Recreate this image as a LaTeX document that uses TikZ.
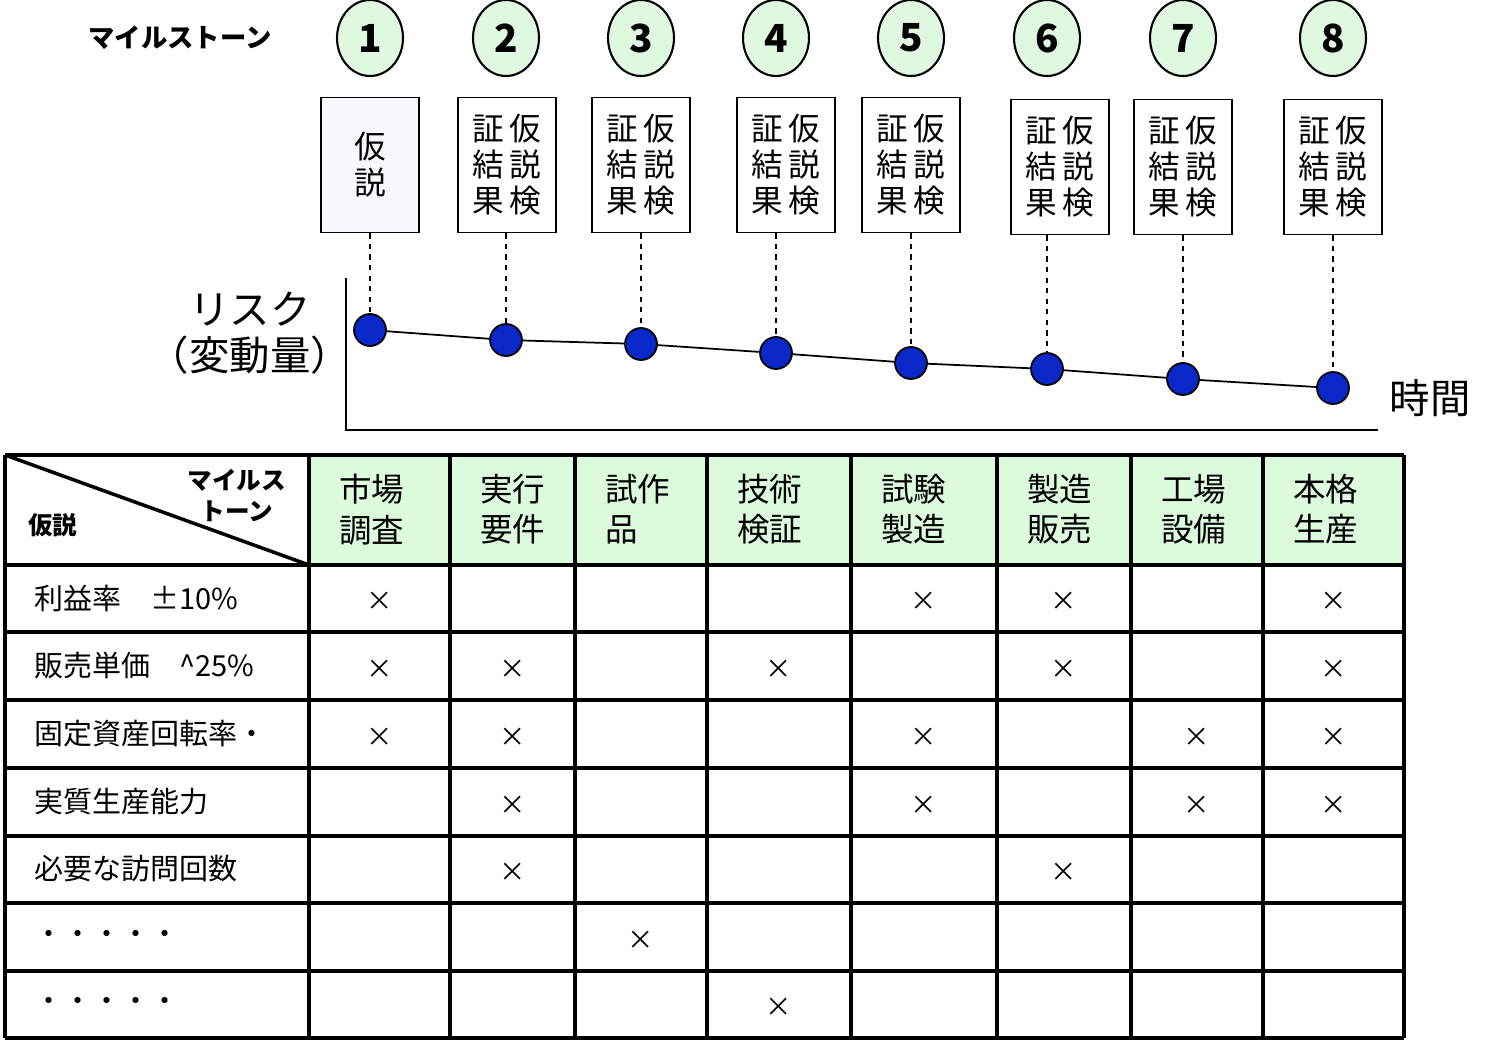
\documentclass[tikz,border=0pt]{standalone}
\usepackage{fontspec}
\setmainfont{Noto Sans CJK JP}
\usetikzlibrary{shapes.geometric}
\definecolor{mgreen}{HTML}{E0F8E0}
\definecolor{hgreen}{HTML}{DCFADC}
\definecolor{blav}{HTML}{F8F8FF}
\definecolor{dblue}{HTML}{0A28C8}
\begin{document}
\begin{tikzpicture}[x=0.02cm,y=-0.02cm,
    mstone/.style={ellipse,draw,line width=1.2pt,fill=mgreen,minimum width=1.32cm,minimum height=1.52cm,inner sep=0pt,font=\fontsize{22}{24}\selectfont\bfseries},
    hbox/.style={draw,line width=1pt,minimum width=1.96cm,minimum height=2.7cm,align=center,font=\fontsize{18}{20.5}\selectfont},
    rdot/.style={circle,draw,line width=1pt,fill=dblue,minimum size=0.64cm,inner sep=0pt},
    cross/.style={font=\fontsize{15}{15}\selectfont},
    rowlab/.style={anchor=west,font=\fontsize{16.5}{18}\selectfont},
    colhead/.style={anchor=north west,align=left,font=\fontsize{18.5}{23}\selectfont}]
  \useasboundingbox (0,0) rectangle (1500,1047);

  % milestones
  \node[font=\fontsize{15}{17}\selectfont\bfseries] (mtitle) at (180,38) {マイルストーン};
  \foreach \i/\x in {1/370,2/506,3/641,4/776,5/911,6/1047,7/1183,8/1333}
    \node[mstone] (m\i) at (\x,38) {\i};

  % hypothesis boxes
  \node[hbox,fill=blav] (b1) at (370,165) {仮\\説};
  \foreach \i/\x/\y in {2/507/165,3/641/165,4/786/165,5/911/165,6/1060/167,7/1183/167,8/1333/167}
    \node[hbox] (b\i) at (\x,\y) {証\,仮\\結\,説\\果\,検};

  % risk curve
  \foreach \i/\x/\y in {1/370/330,2/506/340,3/641/344,4/776/353,5/911/363,6/1047/369,7/1183/379,8/1333/388}
    \coordinate (p\i) at (\x,\y);
  \draw[line width=1pt] (p1) -- (p2) -- (p3) -- (p4) -- (p5) -- (p6) -- (p7) -- (p8);
  \foreach \i in {1,...,8} {
    \draw[dashed,line width=1pt] (b\i.south -| p\i) -- (p\i);
    \node[rdot] (d\i) at (p\i) {};
  }

  % axes
  \coordinate (ax0) at (346,430);
  \draw[line width=1pt] (346,278) -- (ax0) -- (1378,430);
  \node[font=\fontsize{23}{26}\selectfont,align=center] (ylab) at (250,333) {リスク\\（変動量）};
  \node[font=\fontsize{23}{26}\selectfont] (xlab) at (1430,398) {時間};

  % table
  \fill[hgreen] (309,455) rectangle (1404,565);
  \foreach \y in {455,565,632,700,768,836,903,971,1038}
    \draw[line width=2pt] (5,\y) -- (1404,\y);
  \foreach \x in {5,309,450,575,707,851,997,1131,1263,1404}
    \draw[line width=2pt] (\x,455) -- (\x,1038);
  \draw[line width=2pt] (5,455) -- (309,565);
  \node[anchor=north east,align=right,font=\fontsize{14}{17.5}\selectfont\bfseries] (tcorner) at (292,463) {マイルス\\トーン\hspace*{0.5em}};
  \node[anchor=west,font=\fontsize{14}{16}\selectfont\bfseries] (tleft) at (22,525) {仮説};

  \foreach \x/\t in {309/{市場\\調査},450/{実行\\要件},575/{試作\\品},707/{技術\\検証},851/{試験\\製造},997/{製造\\販売},1131/{工場\\設備},1263/{本格\\生産}}
    \node[colhead] at (\x+24,468) {\t};

  \foreach \y/\t in {598/{利益率　±10\%},666/{販売単価　\^{}25\%},734/{固定資産回転率・},802/{実質生産能力},869/{必要な訪問回数},937/{・・・・・},1004/{・・・・・}}
    \node[rowlab] at (28,\y) {\t};

  \foreach \c/\r in {1/1,5/1,6/1,8/1, 1/2,2/2,4/2,6/2,8/2, 1/3,2/3,5/3,7/3,8/3, 2/4,5/4,7/4,8/4, 2/5,6/5, 3/6, 4/7} {
    \pgfmathsetmacro{\cx}{{0,379.5,512.5,641,779,924,1064,1197,1333.5}[\c]}
    \pgfmathsetmacro{\cy}{{0,601,669,737,805,872,940,1007}[\r]}
    \node[cross] (x\r-\c) at (\cx,\cy) {×};
  }
\end{tikzpicture}
\end{document}
